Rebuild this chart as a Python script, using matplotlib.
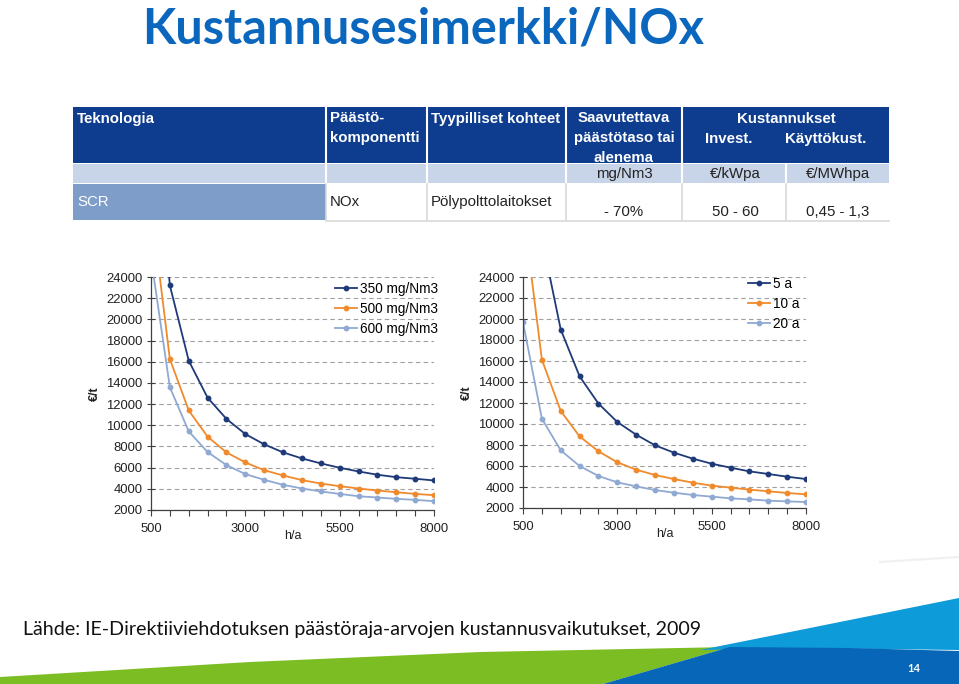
import matplotlib
matplotlib.use("Agg")
import matplotlib.pyplot as plt
from matplotlib.patches import Rectangle, Polygon

# --------- data ---------
hours = [500, 1000, 1500, 2000, 2500, 3000, 3500, 4000, 4500, 5000,
         5500, 6000, 6500, 7000, 7500, 8000]

# left chart: emission level
nox_labels = ['350 mg/Nm3', '500 mg/Nm3', '600 mg/Nm3']
nox_350 = [44200, 23200, 16100, 12600, 10600, 9170, 8200, 7440, 6870, 6400,
           5990, 5640, 5330, 5100, 4950, 4790]
nox_500 = [30800, 16250, 11400, 8920, 7440, 6490, 5760, 5260, 4820, 4500,
           4250, 4030, 3840, 3680, 3520, 3400]
nox_600 = [25800, 13590, 9420, 7470, 6240, 5390, 4850, 4380, 4030, 3750,
           3520, 3300, 3180, 3050, 2960, 2830]

# right chart: depreciation time
life_labels = ['5 a', '10 a', '20 a']
life_5 = [54000, 27700, 19000, 14540, 11940, 10190, 8980, 7970, 7270, 6700,
          6220, 5840, 5490, 5240, 4980, 4760]
life_10 = [30500, 16130, 11240, 8820, 7400, 6350, 5650, 5140, 4760, 4410,
           4130, 3940, 3750, 3590, 3430, 3300]
life_20 = [19680, 10510, 7490, 6000, 5050, 4440, 4060, 3710, 3460, 3240,
           3080, 2920, 2820, 2700, 2630, 2570]

x_ticks = [500, 3000, 5500, 8000]
y_ticks = [2000, 4000, 6000, 8000, 10000, 12000, 14000, 16000, 18000,
           20000, 22000, 24000]

# table content
tbl_head = ['Teknologia', 'Päästö-\nkomponentti', 'Tyypilliset kohteet',
            'Saavutettava\npäästötaso tai\nalenema']
tbl_units = ['mg/Nm3', '€/kWpa', '€/MWhpa']
tbl_row = ['SCR', 'NOx', 'Pölypolttolaitokset', '- 70%', '50 - 60', '0,45 - 1,3']

series_colors = ['#1F3A78', '#F08A2C', '#8FA9D3']
navy = '#0E3C8E'
W, H = 959, 684

fig = plt.figure(figsize=(W / 100, H / 100), dpi=100)
bg = fig.add_axes([0, 0, 1, 1])
bg.set_xlim(0, W)
bg.set_ylim(H, 0)
bg.axis('off')

# --------- title ---------
bg.text(142, 44, 'Kustannusesimerkki/NOx', fontsize=35, fontweight='bold',
        family='Lato', color='#0B67BE', va='baseline', ha='left')

# --------- table ---------
cols = [73, 326, 427, 566, 682, 786, 889]
# header row
bg.add_patch(Rectangle((73, 107), 889 - 73, 56, color=navy, lw=0))
for c in cols[1:5]:
    bg.plot([c, c], [107, 163], color='white', lw=1.5)
bg.add_patch(Rectangle((73, 164), 889 - 73, 19, color='#C8D5E9', lw=0))
for c in cols[1:6]:
    bg.plot([c, c], [164, 183], color='white', lw=1.5)
bg.add_patch(Rectangle((73, 184), 326 - 73, 36, color='#7F9DC9', lw=0))
for c in cols[1:6]:
    bg.plot([c, c], [184, 220], color='#D9D9D9', lw=1.2)
bg.plot([326, 889], [221, 221], color='#D9D9D9', lw=1.2)

tf = dict(family='Liberation Sans', fontsize=10.8)
bg.text(77, 119, tbl_head[0], color='white', fontweight='bold', va='center', **tf)
bg.text(330, 128, tbl_head[1], color='white', fontweight='bold', va='center',
        linespacing=1.6, **tf)
bg.text(624, 138, tbl_head[3], color='white', fontweight='bold', va='center',
        ha='center', linespacing=1.55, **tf)
bg.text(431, 119, tbl_head[2], color='white', fontweight='bold', va='center', **tf)
bg.text(786, 119, 'Kustannukset', color='white', fontweight='bold', va='center',
        ha='center', **tf)
bg.text(729, 139, 'Invest.', color='white', fontweight='bold', va='center',
        ha='center', **tf)
bg.text(826, 139, 'Käyttökust.', color='white', fontweight='bold', va='center',
        ha='center', **tf)
for cx, u in zip([624, 735, 838], tbl_units):
    bg.text(cx, 174, u, color='#222222', va='center', ha='center', **tf)
bg.text(77, 202, tbl_row[0], color='white', va='center', **tf)
bg.text(330, 202, tbl_row[1], color='#222222', va='center', **tf)
bg.text(431, 202, tbl_row[2], color='#222222', va='center', **tf)
for cx, v in zip([624, 735, 838], tbl_row[3:]):
    bg.text(cx, 212, v, color='#222222', va='center', ha='center', **tf)

# --------- bottom decoration ---------
bg.plot([880, 959], [562, 557], color='#F0F0F0', lw=1.5)
bg.add_patch(Polygon([(0, 684), (0, 677), (250, 662), (480, 652), (730, 647),
                      (603, 684)], closed=True, color='#7BBD22', lw=0))
bg.add_patch(Polygon([(700, 650), (800, 630), (959, 598), (959, 650), (800, 648)],
                     closed=True, color='#0E9BDA', lw=0))
bg.add_patch(Polygon([(603, 684), (730, 647), (850, 648), (959, 651), (959, 684)],
                     closed=True, color='#0766B8', lw=0))
bg.text(914, 669, '14', color='white', fontsize=8, fontweight='bold',
        family='Lato', ha='center', va='center')

bg.text(23, 635, 'Lähde: IE-Direktiiviehdotuksen päästöraja-arvojen '
        'kustannusvaikutukset, 2009', fontsize=14.1, family='Lato',
        color='#111111', va='baseline', ha='left')


def px_axes(l, t, r, b):
    return fig.add_axes([l / W, 1 - b / H, (r - l) / W, (b - t) / H])


def draw_chart(ax, data, labels, leg_x, leg_y):
    ax.patch.set_alpha(0)
    for ys, c, lab in zip(data, series_colors, labels):
        ax.plot(hours, ys, color=c, lw=1.3, marker='o', ms=3.2, label=lab)
    ax.set_xlim(500, 8000)
    ax.set_ylim(2000, 24000)
    ax.set_xticks(x_ticks)
    ax.set_xticks(hours, minor=True)
    ax.set_yticks(y_ticks)
    ax.yaxis.grid(True, color='#A0A0A0', ls=(0, (4, 3)), lw=0.8)
    ax.set_axisbelow(True)
    for s in ['top', 'right']:
        ax.spines[s].set_visible(False)
    for s in ['left', 'bottom']:
        ax.spines[s].set_color('#404040')
        ax.spines[s].set_linewidth(0.9)
    ax.tick_params(axis='y', direction='inout', length=6, width=0.8,
                   color='#404040', labelsize=9.4, pad=3)
    ax.tick_params(axis='x', which='both', direction='out', length=4, width=0.8,
                   color='#404040', labelsize=9.4, pad=5)
    for t in ax.get_xticklabels() + ax.get_yticklabels():
        t.set_family('Liberation Sans')
        t.set_color('#222222')
    ax.set_xlabel('h/a', family='Liberation Sans', fontsize=9, labelpad=-3,
                  color='#222222')
    ax.set_ylabel('€/t', family='Liberation Sans', fontsize=9,
                  fontweight='bold', labelpad=4, color='#222222')
    ax.legend(loc='upper left', bbox_to_anchor=(leg_x, leg_y), frameon=False,
              prop={'family': 'Liberation Sans', 'size': 9.8},
              handlelength=1.6, handletextpad=0.25, labelspacing=0.45,
              borderpad=0, borderaxespad=0)


ax1 = px_axes(151, 277, 434, 510)
draw_chart(ax1, [nox_350, nox_500, nox_600], nox_labels, 0.65, 0.98)
ax2 = px_axes(523, 277, 806, 508)
draw_chart(ax2, [life_5, life_10, life_20], life_labels, 0.795, 1.0)

fig.savefig('out.png', dpi=100)
